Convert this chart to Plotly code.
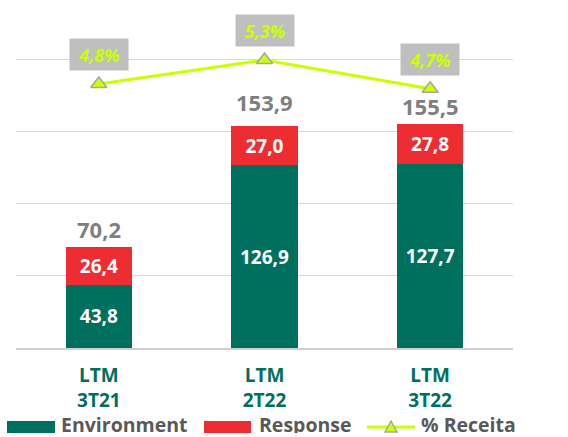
import plotly.graph_objects as go

categories = ["LTM<br>3T21", "LTM<br>2T22", "LTM<br>3T22"]
environment = [43.8, 126.9, 127.7]
response = [26.4, 27.0, 27.8]
receita_pct = [4.8, 5.3, 4.7]

GREEN = "#00705E"
RED = "#EE2D33"
LIME = "#CCFF00"
GRAY_TXT = "#7F7F7F"
FONT = "Open Sans"

W, H = 568, 437
PL, PR, PT, PB = 16, 513, 10, 348  # plot area in pixels


def px(x):
    return (x - PL) / (PR - PL)


def py(y):
    return (PB - y) / (PB - PT)


def fmt(v):
    return f"{v:.1f}".replace(".", ",")


totals = [round(a + b, 1) for a, b in zip(environment, response)]
total_shift = [18, 24, 18]

fig = go.Figure()
fig.add_trace(go.Bar(
    x=categories, y=environment, name="Environment", marker_color=GREEN,
    marker_line_width=0,
    text=[f"<b>{fmt(v)}</b>" for v in environment], textposition="inside",
    insidetextanchor="middle", textangle=0, constraintext="none",
    textfont=dict(color="white", size=19, family=FONT),
))
fig.add_trace(go.Bar(
    x=categories, y=response, name="Response", marker_color=RED,
    marker_line_width=0,
    text=[f"<b>{fmt(v)}</b>" for v in response], textposition="inside",
    insidetextanchor="middle", textangle=0, constraintext="none",
    textfont=dict(color="white", size=19, family=FONT),
))
fig.add_trace(go.Scatter(
    x=categories, y=receita_pct, name="% Receita", yaxis="y2",
    mode="lines+markers", line=dict(color=LIME, width=3),
    marker=dict(symbol="triangle-up", size=14, color=LIME,
                line=dict(color="#A6A6A6", width=1.5)),
    cliponaxis=False,
))

annotations = []
for c, t, s in zip(categories, totals, total_shift):
    annotations.append(dict(
        x=c, y=t, xref="x", yref="y", text=f"<b>{fmt(t)}</b>", showarrow=False,
        yshift=s, font=dict(size=22, color=GRAY_TXT, family=FONT),
    ))
for c, p in zip(categories, receita_pct):
    annotations.append(dict(
        x=c, y=p, xref="x", yref="y2", text=f"<b><i>{fmt(p)}%</i></b>",
        showarrow=False, yshift=29, bgcolor="#BFBFBF", borderpad=4,
        width=50, height=23,
        font=dict(size=18, color=LIME, family=FONT),
    ))

# custom legend
LEG_Y = 424
shapes = [
    dict(type="rect", xref="paper", yref="paper", x0=px(7), x1=px(55),
         y0=py(433), y1=py(421), fillcolor=GREEN, line_width=0),
    dict(type="rect", xref="paper", yref="paper", x0=px(204), x1=px(251),
         y0=py(433), y1=py(421), fillcolor=RED, line_width=0),
    dict(type="line", xref="paper", yref="paper", x0=px(367), x1=px(415),
         y0=py(427), y1=py(427), line=dict(color=LIME, width=3)),
    dict(type="path", xref="paper", yref="paper",
         path=f"M {px(385)} {py(432)} L {px(397)} {py(432)} L {px(391)} {py(421)} Z",
         fillcolor=LIME, line=dict(color="#A6A6A6", width=1.5)),
]
for x0, label in [(59, "Environment"), (257, "Response"), (419, "% Receita")]:
    annotations.append(dict(
        x=px(x0), y=py(LEG_Y), xref="paper", yref="paper", xanchor="left",
        yanchor="middle", text=f"<b>{label}</b>", showarrow=False, height=18,
        font=dict(size=19.5, color="#595959", family=FONT),
    ))

fig.update_layout(
    width=W, height=H,
    barmode="stack", bargap=0.6,
    plot_bgcolor="white", paper_bgcolor="white",
    margin=dict(l=PL, r=W - PR, t=PT, b=H - PB, autoexpand=False),
    showlegend=False,
    xaxis=dict(showgrid=False, showline=True, linecolor="#D0D0D0", linewidth=2,
               tickfont=dict(size=19, color=GREEN, family=FONT), ticks="",
               ticklabelstandoff=9, automargin=False),
    yaxis=dict(range=[0, 234.7], tickvals=[0, 50, 100, 150, 200], showgrid=True,
               gridcolor="#D9D9D9", showticklabels=False, zeroline=False,
               automargin=False),
    yaxis2=dict(range=[-0.70, 6.34], overlaying="y", side="right",
                showgrid=False, showticklabels=False, zeroline=False,
                automargin=False),
    annotations=annotations,
    shapes=shapes,
)
fig.update_xaxes(tickvals=categories, ticktext=[f"<b>{c}</b>" for c in categories])

fig.write_html("out.html", config={"displayModeBar": False},
               post_script="document.body.style.margin='0';document.body.style.overflow='hidden';")
